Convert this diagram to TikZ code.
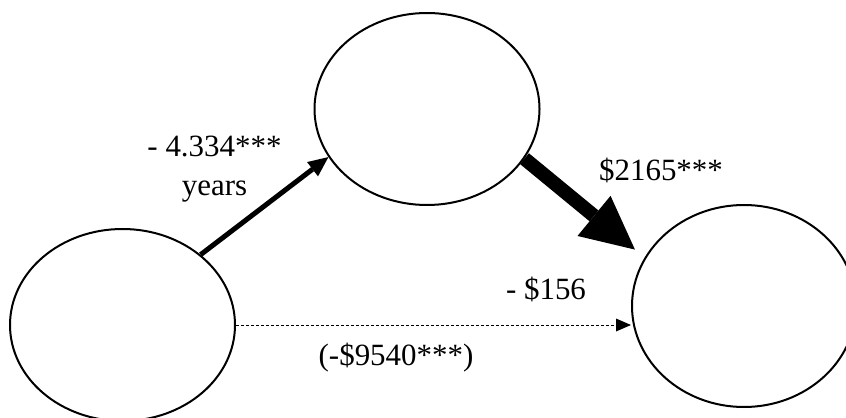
\documentclass[tikz,border=0pt]{standalone}
\usepackage{fontspec}
\setmainfont{Liberation Serif}
\usetikzlibrary{shapes.geometric, arrows.meta}

\begin{document}
\begin{tikzpicture}[var/.style={draw, ellipse, line width=0.04cm, minimum width=4.5cm, minimum height=3.84cm, inner sep=0pt},
				effekt/.style={font=\fontsize{17.6}{22}\selectfont, align=center, inner sep=0pt},
				x=1cm, y=1cm]
				%Bildbereich
				\useasboundingbox (0,0) rectangle (16.92,8.34);
				\clip (0,0) rectangle (16.92,8.34);
				% Ellipsen zeichnen
				\node[var] (L) at (2.45,1.84) {};
				\node[var] (T) at (8.54,6.16) {};
				\node[var, minimum width=4.48cm, minimum height=4.04cm] (R) at (14.88,2.22) {};
				% Pfeile zeichnen
				\draw[-{Triangle[length=0.4cm,width=0.36cm,line width=0pt]}, line width=0.1cm] (L.42) -- (T.206);
				\draw[-{Triangle[length=1.06cm,width=1.04cm,line width=0pt]}, line width=0.28cm, shorten >=0.25cm] (T.333) -- (R.154);
				\draw[-{Triangle[length=0.3cm,width=0.26cm,line width=0pt]}, line width=0.02cm, dash pattern=on 0.06cm off 0.04cm] (L.east) -- (L.east -| R.west);
				%Beschriftung
				\node[effekt] (a) at (4.29,4.96) {- 4.334***\\years};
				\node[effekt] (b) at (13.22,4.94) {\$2165***};
				\node[effekt] (c) at (10.92,2.56) {- \$156};
				\node[effekt] (d) at (7.92,1.18) {(-\$9540***)};
			\end{tikzpicture}
\end{document}
